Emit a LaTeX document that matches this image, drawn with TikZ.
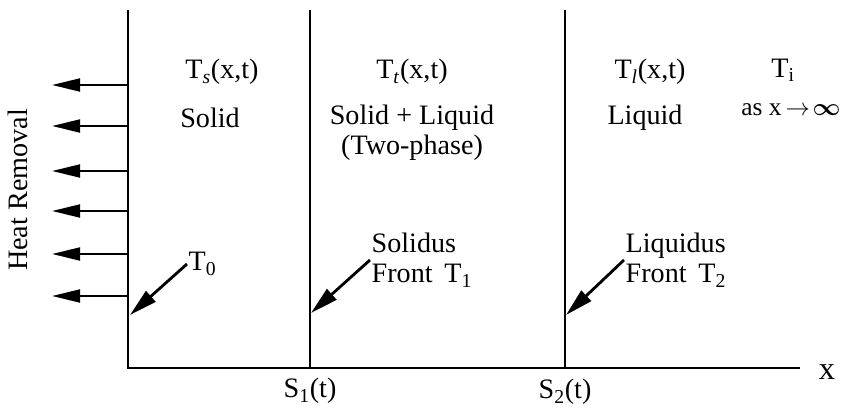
\documentclass[tikz,border=0pt]{standalone}
\usepackage{amsmath,bm}
\usepackage{fontspec}
\setmainfont{Liberation Serif}
\usetikzlibrary{arrows.meta,positioning}
\tikzset{
  wall line/.style={line width=1.8pt},
  heat arrow/.style={-{Triangle[length=7mm,width=3.2mm]},line width=1.8pt},
  front arrow/.style={-{Triangle[length=7mm,width=3.5mm]},line width=2pt},
  zone label/.style={align=center,inner sep=1pt},
  front label/.style={align=left,anchor=west,inner sep=1pt}
}

\begin{document}
\begin{tikzpicture}[x=0.025cm,y=-0.025cm,font=\fontsize{20}{21.5}\selectfont]
  \useasboundingbox (0,0) rectangle (850,412);
  \coordinate (o) at (128,368); \coordinate (otop) at (128,10);
  \coordinate (s1) at (310,368); \coordinate (s1top) at (310,10);
  \coordinate (s2) at (565,368); \coordinate (s2top) at (565,10);
  \coordinate (xend) at (800,368);
  \draw[wall line] (otop) -- (o) -- (xend);
  \draw[wall line] (s1top) -- (s1); \draw[wall line] (s2top) -- (s2);
  \foreach \y [count=\i] in {85,126,171,211,254,296} {
    \coordinate (w\i) at (128,\y); \coordinate (h\i) at (52,\y);
    \draw[heat arrow] (w\i) -- (h\i);
  }
  \node[rotate=90] (heat) at (18,190) {Heat Removal};
  \node[zone label] (ts) at (222,72) {T\textsubscript{\textit{s}}(x,t)};
  \node[zone label] (solid) at (210,118) {Solid};
  \node[zone label] (tt) at (412,72) {T\textsubscript{\textit{t}}(x,t)};
  \node[zone label] (mushy) at (412,133) {Solid + Liquid\\(Two-phase)};
  \node[zone label] (tl) at (650,72) {T\textsubscript{\textit{l}}(x,t)};
  \node[zone label] (liquid) at (645,118) {Liquid};
  \node[zone label] (ti) at (783,70) {T\textsubscript{i}};
  \node[zone label,font=\fontsize{18}{20}\selectfont] (inf) at (791,110) {as x\,$\rightarrow\!\bm{\infty}$};
  \node[front label] (t0) at (187,264) {T\textsubscript{0}};
  \node[front label] (sol) at (370,260) {Solidus\\Front\, T\textsubscript{1}};
  \node[front label] (liq) at (624,260) {Liquidus\\Front\, T\textsubscript{2}};
  \coordinate (f0) at (130,315); \coordinate (f1) at (311,313); \coordinate (f2) at (566,315);
  \draw[front arrow] (t0.west) -- (f0);
  \draw[front arrow] (sol.west) -- (f1);
  \draw[front arrow] (liq.west) -- (f2);
  \node (s1lab) at (310,391) {S\textsubscript{1}(t)};
  \node (s2lab) at (565,392) {S\textsubscript{2}(t)};
  \node[font=\fontsize{23}{25}\selectfont] (xlab) at (827,372) {x};
\end{tikzpicture}
\end{document}
